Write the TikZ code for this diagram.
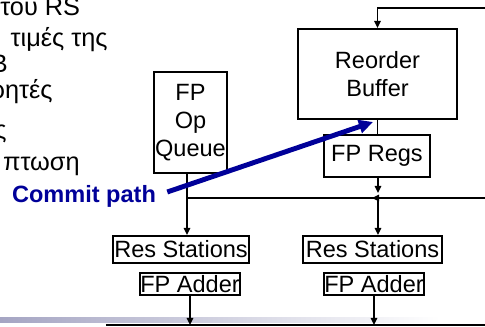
\documentclass[tikz,border=0pt]{standalone}
\usepackage{fontspec}
\setmainfont{Liberation Sans}
\usetikzlibrary{arrows.meta}
\definecolor{commitblue}{RGB}{0,0,153}
\definecolor{barshade}{RGB}{165,165,195}
\tikzset{
  unit/.style={draw, line width=1.2pt, inner sep=0pt, align=center},
  wire/.style={line width=1.1pt},
  tip/.style={-{Triangle[length=4pt,width=3.6pt]}},
  greek/.style={inner sep=0pt, anchor=base east, font=\fontsize{14.4}{17}\selectfont}
}
\begin{document}
\begin{tikzpicture}[x=0.02cm, y=-0.02cm, font=\fontsize{13.4}{15.9}\selectfont]
\useasboundingbox (0,0) rectangle (485,327);
\shade[left color=barshade, right color=white] (0,318) rectangle (440,323);

\node[greek, anchor=base west] (t1) at (0,16) {του RS};
\node[greek] (t2) at (108,47) {τιμές της};
\node[greek] (t3) at (8,73) {B};
\node[greek] (t4) at (53,99) {ρητές};
\node[greek] (t5) at (7,139) {ς};
\node[greek] (t6) at (80,171) {πτωση};

\node[unit, minimum width=3.18cm, minimum height=1.8cm] (rob) at (377.5,74) {Reorder\\Buffer};
\node[unit, minimum width=2.12cm, minimum height=0.84cm] (fpregs) at (377,156) {FP Regs};
\node[unit, minimum width=1.46cm, minimum height=2.02cm] (queue) at (190.5,122.5) {FP\\Op\\Queue};
\node[unit, minimum width=2.72cm, minimum height=0.54cm] (resL) at (181,249.5) {Res Stations};
\node[unit, minimum width=2.78cm, minimum height=0.54cm] (resR) at (372.5,249.5) {Res Stations};
\node[unit, minimum width=2cm, minimum height=0.44cm] (addL) at (190,284) {FP Adder};
\node[unit, minimum width=2cm, minimum height=0.44cm] (addR) at (374,284) {FP Adder};

\coordinate (topR) at (486,8);
\coordinate (busL) at (187,198);
\coordinate (busM) at (378,198);
\coordinate (busR) at (486,198);
\coordinate (busTip) at (372,198);
\coordinate (botL) at (106,325);
\coordinate (botR) at (486,325);

\draw[wire, tip] (topR) -| (rob.north);
\draw[wire] (rob.south) -- (rob.south |- fpregs.north);
\draw[wire, tip] (fpregs.south -| busM) -- ([yshift=0.1cm]busM);
\draw[wire, tip] (busR) -- (busTip);
\draw[wire] (busM) -- (busL);
\draw[wire, tip] (queue.south -| busL) -- (busL |- resL.north);
\draw[wire, tip] (busM) -- (busM |- resR.north);
\draw[wire] (botL) -- (botR);
\draw[wire, tip] (addL.south) -- (addL.south |- botL);
\draw[wire, tip] (addR.south) -- (addR.south |- botL);

% commit path
\node[font=\fontsize{13.4}{15.9}\selectfont\bfseries, text=commitblue, inner sep=0pt] (cp) at (84,196) {Commit path};
\coordinate (robin) at (373,122);
\draw[commitblue, line width=2.8pt, -{Triangle[length=8pt,width=7.5pt]}] ([xshift=0.22cm,yshift=0.08cm]cp.east) -- (robin);
\end{tikzpicture}
\end{document}
